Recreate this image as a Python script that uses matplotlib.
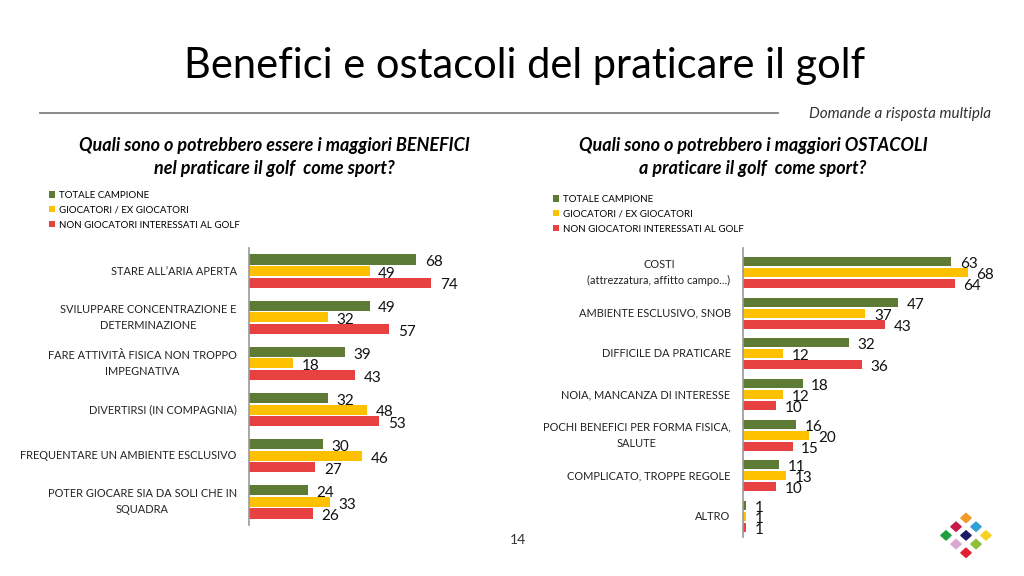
import numpy as np
import matplotlib.pyplot as plt
from matplotlib.patches import Polygon

plt.rcParams['font.family'] = ['Lato', 'DejaVu Sans']

# data
series = ["TOTALE CAMPIONE", "GIOCATORI / EX GIOCATORI", "NON GIOCATORI INTERESSATI AL GOLF"]
colors = ["#5E7B36", "#FFC000", "#E84141"]

benefici_cat = ["STARE ALL\u2019ARIA APERTA",
                "SVILUPPARE CONCENTRAZIONE E\nDETERMINAZIONE",
                "FARE ATTIVIT\u00c0 FISICA NON TROPPO\nIMPEGNATIVA",
                "DIVERTIRSI (IN COMPAGNIA)",
                "FREQUENTARE UN AMBIENTE ESCLUSIVO",
                "POTER GIOCARE SIA DA SOLI CHE IN\nSQUADRA"]
benefici_tot = [68, 49, 39, 32, 30, 24]
benefici_gioc = [49, 32, 18, 48, 46, 33]
benefici_non = [74, 57, 43, 53, 27, 26]

ostacoli_cat = ["COSTI\n(attrezzatura, affitto campo...)",
                "AMBIENTE ESCLUSIVO, SNOB",
                "DIFFICILE DA PRATICARE",
                "NOIA, MANCANZA DI INTERESSE",
                "POCHI BENEFICI PER FORMA FISICA,\nSALUTE",
                "COMPLICATO, TROPPE REGOLE",
                "ALTRO"]
ostacoli_tot = [63, 47, 32, 18, 16, 11, 1]
ostacoli_gioc = [68, 37, 12, 12, 20, 13, 1]
ostacoli_non = [64, 43, 36, 10, 15, 10, 1]

W, H = 1024, 576
fig = plt.figure(figsize=(W / 100, H / 100), dpi=100)
fig.patch.set_facecolor("white")


def px(x, y):
    return x / W, 1 - y / H


def panel(rect, cats, vals, xmax, ylim, off, bh, legend_xy):
    l, t, r, b = rect
    ax = fig.add_axes([l / W, 1 - b / H, (r - l) / W, (b - t) / H])
    y = np.arange(len(cats))
    handles = []
    for k, v in enumerate(vals):
        yy = y + (k - 1) * off
        hb = ax.barh(yy, v, height=bh, color=colors[k], label=series[k])
        handles.append(hb)
        for yi, vi in zip(yy, v):
            ax.text(vi + xmax * 0.035, yi + 0.06, str(vi), fontsize=11,
                    va="center", ha="left", color="#111111")
    for yi, c in zip(y, cats):
        ax.text(-xmax * 0.05, yi, c, fontsize=7.9, ha="right", va="center",
                multialignment="center", color="#222222", linespacing=1.55)
    ax.set_xlim(0, xmax)
    ax.set_ylim(*ylim)
    ax.set_xticks([])
    ax.set_yticks([])
    for s in ["top", "right", "bottom"]:
        ax.spines[s].set_visible(False)
    ax.spines["left"].set_color("#999999")
    ax.spines["left"].set_linewidth(1.2)
    fig.legend(handles=handles, labels=series, loc="upper left",
               bbox_to_anchor=px(*legend_xy), frameon=False, fontsize=7,
               handlelength=0.6, handleheight=0.6, handletextpad=0.4,
               labelspacing=0.6, borderaxespad=0, borderpad=0)
    return ax


panel((249, 248, 495, 525), benefici_cat,
      [benefici_tot, benefici_gioc, benefici_non], 100, (5.5, -0.5),
      0.25, 0.22, (49, 191))
panel((743, 248, 991, 537), ostacoli_cat,
      [ostacoli_tot, ostacoli_gioc, ostacoli_non], 75, (6.5, -0.6),
      0.27, 0.22, (553, 195))

# titles
fig.text(*px(525, 66), "Benefici e ostacoli del praticare il golf",
         fontsize=30, ha="center", va="center", color="black")
fig.add_artist(plt.Line2D([40 / W, 778 / W], [1 - 113 / H] * 2,
                          color="#808080", lw=1.3))
fig.text(*px(991, 114), "Domande a risposta multipla", fontsize=11,
         style="italic", ha="right", va="center", color="#333333")
fig.text(*px(274, 157), "Quali sono o potrebbero essere i maggiori BENEFICI\n"
         "nel praticare il golf  come sport?", fontsize=13, weight="bold",
         style="italic", ha="center", va="center", linespacing=1.45)
fig.text(*px(753, 157), "Quali sono o potrebbero i maggiori OSTACOLI\n"
         "a praticare il golf  come sport?", fontsize=13, weight="bold",
         style="italic", ha="center", va="center", linespacing=1.45)
fig.text(*px(518, 540), "14", fontsize=10, ha="center", va="center",
         color="#333333")

# logo (diamond of small diamonds)
lax = fig.add_axes([930 / W, 1 - 565 / H, 72 / W, 60 / H])
lax.set_xlim(930, 1002)
lax.set_ylim(565, 505)
lax.axis("off")
logo_cols = [["#F09A28", "#C8174A", "#20A040"],
             ["#30A0D8", "#1C1C66", "#D8A8D0"],
             ["#F8D020", "#8DC03A", "#E02030"]]
cx, cy, sx, sy, hw, hh = 966, 518, 10, 8.7, 5.2, 4.6
for i in range(3):
    for j in range(3):
        x0 = cx + (i - j) * sx
        y0 = cy + (i + j) * sy
        lax.add_patch(Polygon([(x0, y0 - hh), (x0 + hw, y0), (x0, y0 + hh),
                               (x0 - hw, y0)], closed=True,
                              color=logo_cols[i][j]))

fig.savefig("out.png", dpi=100)
